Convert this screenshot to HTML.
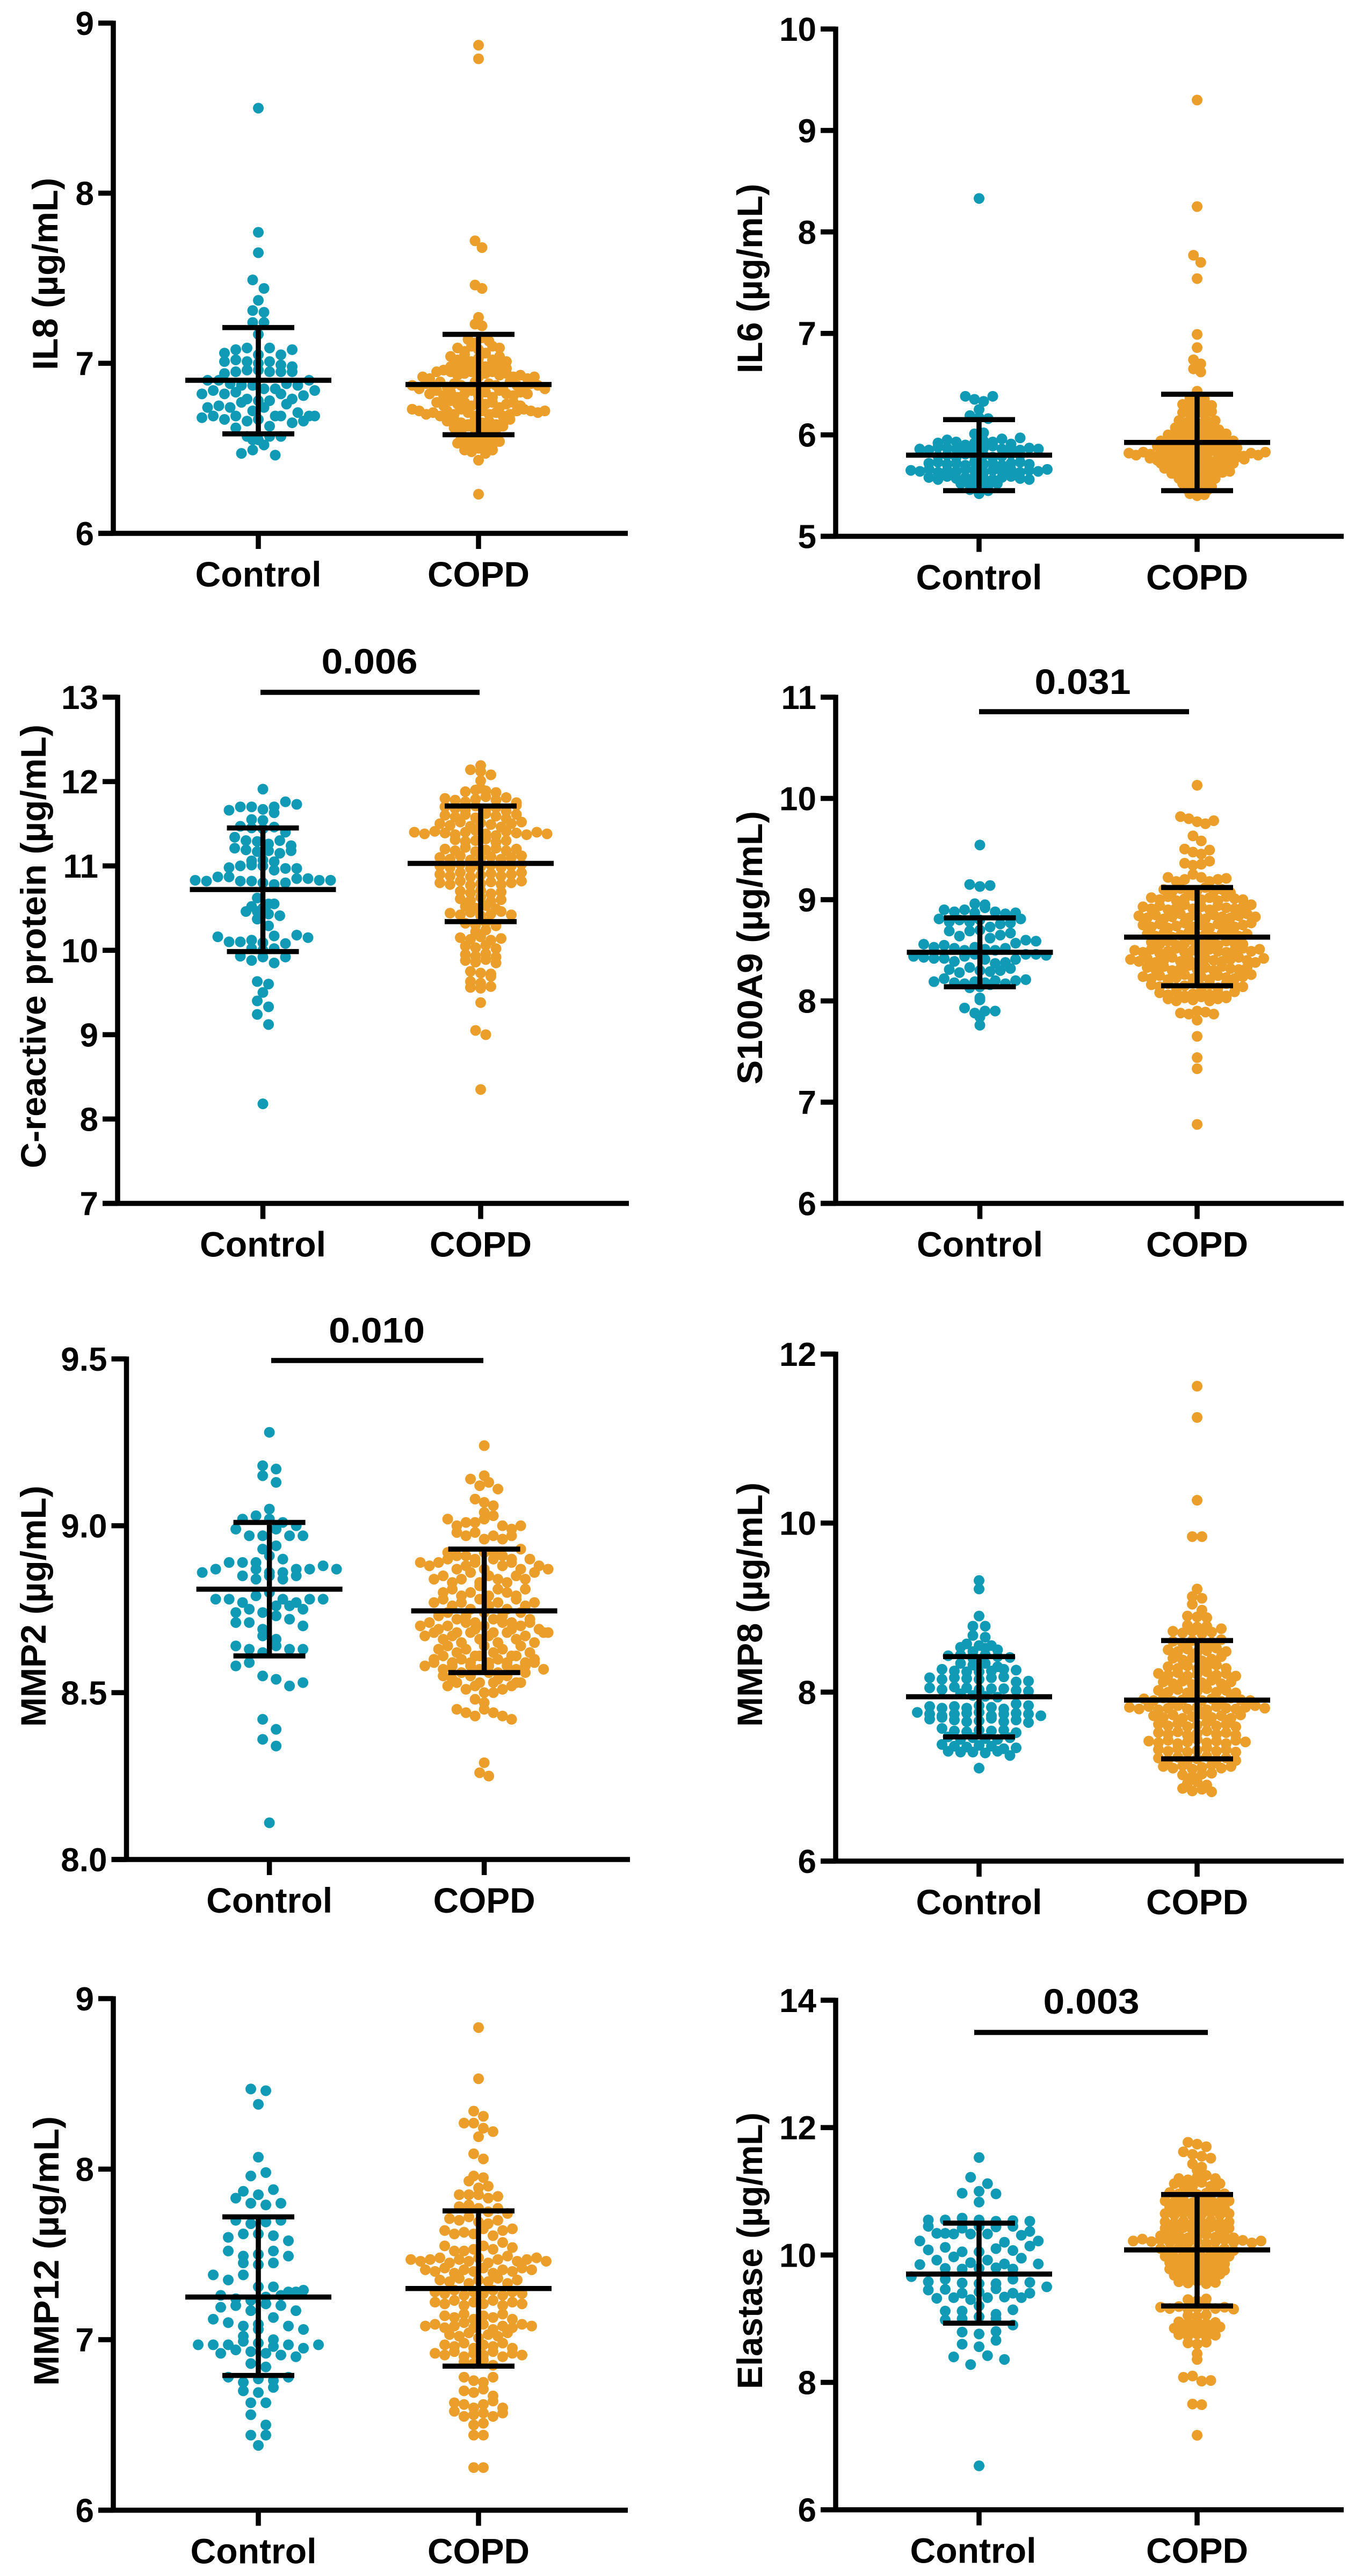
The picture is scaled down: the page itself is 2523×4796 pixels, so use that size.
<!DOCTYPE html>
<html lang="en">
<head>
<meta charset="utf-8">
<title>Biomarker levels in Control and COPD groups</title>
<style>
html,body{margin:0;padding:0;background:#fff;}
svg{display:block;}
text{font-family:"Liberation Sans",Arial,sans-serif;font-weight:700;fill:#000;}
</style>
</head>
<body>
<svg id="figure" xmlns="http://www.w3.org/2000/svg" width="2523" height="4796" viewBox="0 0 2523 4796"></svg>
<script>
const categories=["Control","COPD"];
const il8Ticks=[6,7,8,9];
const il6Ticks=[5,6,7,8,9,10];
const crpTicks=[7,8,9,10,11,12,13];
const s100Ticks=[6,7,8,9,10,11];
const mmp2Ticks=["8.0","8.5","9.0","9.5"];
const mmp8Ticks=[6,8,10,12];
const mmp12Ticks=[6,7,8,9];
const elastaseTicks=[6,8,10,12,14];

/* mean, upper, lower for Control then COPD */
const il8ControlStats=[6.90,7.21,6.585];
const il8CopdStats=[6.875,7.17,6.58];
const il6ControlStats=[5.80,6.15,5.45];
const il6CopdStats=[5.925,6.40,5.45];
const crpControlStats=[10.72,11.45,9.985];
const crpCopdStats=[11.03,11.71,10.34];
const s100ControlStats=[8.48,8.82,8.14];
const s100CopdStats=[8.63,9.12,8.15];
const mmp2ControlStats=[8.81,9.01,8.61];
const mmp2CopdStats=[8.745,8.93,8.56];
const mmp8ControlStats=[7.945,8.42,7.47];
const mmp8CopdStats=[7.905,8.61,7.21];
const mmp12ControlStats=[7.25,7.72,6.79];
const mmp12CopdStats=[7.30,7.755,6.845];
const elastaseControlStats=[9.70,10.50,8.93];
const elastaseCopdStats=[10.08,10.95,9.20];

/* measured values, grouped in the rows of each swarm */
const il8Control=[[8.50],[7.77],[7.65],[7.49,7.44],[7.37],[7.31,7.30],[7.24,7.24],[7.17],
[7.06,7.08,7.09,7.05,7.09,7.05,7.08],[7.01,7.02,7.01,7.00,7.01,6.99,6.98],[6.94,6.95,6.96,6.96,6.95,6.95,6.95],
[6.90,6.90,6.88,6.87,6.87,6.85,6.85,6.88,6.87,6.90],[6.82,6.84,6.82,6.83,6.79,6.78,6.78,6.82,6.79,6.81,6.84],
[6.74,6.75,6.74,6.77,6.72,6.74,6.69,6.76,6.71,6.69],[6.68,6.69,6.67,6.69,6.66,6.67,6.63,6.69,6.65,6.66,6.69],
[6.62,6.57,6.55,6.57,6.57],[6.55,6.52],[6.47,6.49,6.52,6.46]];
const il8Copd=[[8.87],[8.79],[7.72,7.68],[7.46,7.44],[7.27],[7.23,7.22],[7.14,7.12,7.15,7.13],
[7.09,7.07,7.10,7.08,7.06,7.10,7.09],[7.04,7.02,7.05,7.01,7.03,7.06,7.02,7.04,7.01],[6.98,6.96,6.99,6.97,7.00,6.98,6.96,6.99,6.97],
[6.92,6.91,6.95,6.96,6.95,6.93,6.94,6.95,6.92,6.94,6.95,6.93,6.94,6.92,6.93,6.91,6.92],
[6.87,6.85,6.88,6.87,6.89,6.86,6.88,6.87,6.85,6.89,6.86,6.88,6.87,6.85,6.89,6.87,6.86,6.88,6.87,6.85],
[6.82,6.84,6.81,6.83,6.80,6.82,6.84,6.81,6.83,6.80,6.84,6.82,6.81,6.83,6.82],
[6.77,6.75,6.78,6.76,6.77,6.75,6.78,6.76,6.77,6.74,6.76,6.77,6.75],
[6.73,6.72,6.70,6.71,6.69,6.72,6.70,6.73,6.71,6.69,6.72,6.70,6.71,6.69,6.70,6.72,6.73,6.72,6.71,6.72],
[6.66,6.67,6.65,6.64,6.67,6.65,6.66,6.64,6.65,6.67],[6.62,6.60,6.63,6.61,6.60,6.62,6.61,6.63],
[6.57,6.56,6.58,6.55,6.57,6.56],[6.53,6.52,6.54,6.51,6.53,6.52,6.54],[6.49,6.48,6.50,6.47,6.49],[6.43],[6.23]];

const il6Control=[[8.33],[6.38,6.35,6.33,6.38],[6.25],[6.19,6.17,6.16],[6.01,6.02],
[5.92,5.95,5.93,5.90,5.92,5.94,5.93,5.96,5.91,5.97],[5.86,5.85,5.88,5.87,5.86,5.88,5.85,5.87,5.89,5.86,5.88,5.85,5.87,5.86],
[5.79,5.80,5.78,5.81,5.79,5.80,5.78,5.79,5.81,5.80],[5.72,5.73,5.71,5.72,5.70,5.73,5.71,5.72,5.70,5.72,5.73,5.71],
[5.65,5.64,5.66,5.63,5.65,5.64,5.66,5.65,5.63,5.65,5.64,5.66,5.63,5.65,5.64,5.66],
[5.58,5.56,5.59,5.57,5.58,5.59,5.57,5.56,5.58,5.59,5.57,5.56],[5.52,5.51,5.53,5.50,5.52],[5.46,5.47,5.45],[5.42]];
const il6Copd=[[9.30],[8.25],[7.77,7.70],[7.54],[6.99],[6.86],[6.74,6.70],[6.65,6.62],[6.43],[6.36,6.37,6.35],
[6.30,6.28,6.31,6.27,6.29],[6.22,6.21,6.24,6.20,6.23],[6.14,6.12,6.15,6.11,6.13,6.14],[6.07,6.05,6.08,6.06,6.04,6.07,6.05],
[6.00,5.98,6.01,5.99,6.02,5.97,6.00,5.98,6.01],[5.94,5.92,5.95,5.93,5.96,5.91,5.94,5.92,5.95,5.93,5.94],
[5.89,5.87,5.90,5.88,5.86,5.89,5.87,5.90,5.88,5.86,5.89,5.87],
[5.82,5.80,5.83,5.81,5.79,5.84,5.82,5.80,5.83,5.81,5.79,5.82,5.84,5.80,5.83,5.81,5.79,5.82,5.80,5.83],
[5.77,5.75,5.78,5.76,5.74,5.77,5.75,5.78,5.76,5.74,5.77,5.75,5.78,5.76],
[5.72,5.70,5.73,5.71,5.69,5.72,5.70,5.73,5.71,5.69,5.72],[5.67,5.65,5.68,5.66,5.64,5.67,5.65,5.68,5.66,5.64],
[5.62,5.60,5.63,5.61,5.59,5.62,5.60,5.63],[5.57,5.55,5.58,5.56,5.54,5.57],[5.52,5.50,5.53,5.51,5.49],
[5.47,5.45,5.48,5.46],[5.42,5.40,5.41]];

const crpControl=[[11.91],[11.66,11.70,11.70,11.67,11.70,11.76,11.73],[11.55,11.54,11.63],[11.47,11.45,11.44,11.46,11.40],
[11.34,11.30,11.29,11.26,11.30,11.24],[11.21,11.19,11.17,11.18,11.15,11.18],[11.06,11.07,11.05],[10.98,11.00,11.01,11.00,10.95,10.97,10.97],
[10.83,10.82,10.87,10.87,10.82,10.82,10.80,10.78,10.80,10.85,10.85,10.83,10.83],[10.62,10.55],[10.52,10.50,10.55],[10.46,10.46,10.43,10.41],
[10.37,10.29],[10.16,10.10,10.10,10.12,10.09,10.17,10.08,10.18,10.15],[10.02,10.00,10.02],[9.93,9.88,9.92,9.85,9.92],[9.63,9.60],[9.50],[9.40,9.33],[9.24,9.12],[8.18]];
const crpCopd=[[12.19],[12.14,12.12,12.08],[12.01],[11.92],[11.88,11.90,11.89,11.87],
[11.80,11.78,11.76,11.79,11.82,11.78,11.81,11.75],
[11.70,11.68,11.66,11.71,11.67,11.69,11.65,11.72],
[11.60,11.58,11.61,11.57,11.62,11.59,11.56,11.61],
[11.50,11.48,11.52,11.47,11.51,11.49,11.46,11.50,11.52],
[11.40,11.38,11.41,11.39,11.37,11.40,11.42,11.38,11.36,11.41,11.39,11.37,11.40,11.38],
[11.31,11.29,11.30,11.32,11.28,11.30],
[11.20,11.18,11.22,11.17,11.19,11.21,11.18,11.20],
[11.10,11.08,11.12,11.07,11.09,11.11,11.08,11.10,11.12],
[11.00,10.98,11.02,10.97,10.99,11.01,10.98,11.00,11.02],
[10.90,10.88,10.92,10.87,10.89,10.91,10.88,10.90,10.92],
[10.80,10.78,10.82,10.77,10.79,10.81,10.78,10.80,10.82],
[10.70,10.68,10.71,10.67,10.69],[10.61,10.59,10.63,10.58,10.60],[10.52,10.50,10.53,10.49],
[10.44,10.42,10.45,10.41,10.43,10.46,10.42],[10.32,10.30,10.33,10.29],[10.22,10.24],
[10.15,10.13,10.16,10.12,10.14],[10.05,10.03,10.06,10.02],[9.95,9.93,9.96,9.92],[9.88,9.86,9.89,9.85],[9.75,9.73,9.72],
[9.63,9.61,9.69],[9.56,9.55,9.57],[9.38],[9.05,9.00],[8.35]];

const s100Control=[[9.54],[9.15,9.13,9.14],[8.96,8.95],[8.90,8.88,8.90,8.87,8.92,8.88,8.86,8.87],[8.81,8.78,8.80,8.78,8.80,8.73,8.76,8.77,8.81],
[8.69,8.64,8.69,8.70,8.62,8.65,8.67],[8.56,8.53,8.55,8.52,8.50,8.53,8.51,8.50,8.52,8.57,8.60,8.59],
[8.44,8.43,8.42,8.42,8.39,8.44,8.46,8.41,8.37,8.38,8.41,8.46,8.46,8.45],[8.31,8.28,8.33,8.30,8.29,8.30,8.32],
[8.19,8.22,8.18,8.17,8.19,8.18,8.20,8.17,8.20,8.21],[8.13,8.14,8.16],[8.03],[8.01],[7.93,7.88,7.90,7.90],[7.84],[7.76]];
const s100Copd=[[10.13],[9.82,9.80,9.77,9.75,9.78],[9.63,9.58],[9.50,9.47,9.45,9.49],[9.36,9.34,9.35,9.38],[9.22,9.18,9.20,9.25,9.22,9.18,9.20,9.21],
[9.10,9.08,9.11,9.07,9.09,9.12,9.08,9.10,9.07],[9.02,9.00,9.03,8.99,9.01,9.04,9.00,9.02,8.99,9.03,9.01,9.00],
[8.93,8.91,8.94,8.90,8.92,8.95,8.91,8.93,8.90,8.94,8.92,8.91,8.93,8.95],[8.84,8.82,8.85,8.81,8.83,8.86,8.82,8.84,8.81,8.85,8.83,8.82,8.84,8.86,8.83],
[8.75,8.73,8.76,8.72,8.74,8.77,8.73,8.75,8.72,8.76,8.74,8.73,8.75,8.77],[8.66,8.64,8.67,8.63,8.65,8.68,8.64,8.66,8.63,8.67,8.65,8.64,8.66],
[8.58,8.56,8.59,8.55,8.57,8.60,8.56,8.58,8.55,8.59,8.57,8.56],[8.50,8.48,8.51,8.47,8.49,8.52,8.48,8.50,8.47,8.51,8.49,8.48,8.50,8.52,8.49,8.51],
[8.41,8.39,8.42,8.38,8.40,8.43,8.39,8.41,8.38,8.42,8.40,8.39,8.41,8.43,8.40,8.38,8.42],[8.33,8.31,8.34,8.30,8.32,8.35,8.31,8.33,8.30,8.34,8.32,8.31,8.33],
[8.24,8.22,8.25,8.21,8.23,8.26,8.22,8.24,8.21,8.25,8.23,8.22,8.24,8.26],[8.16,8.14,8.17,8.13,8.15,8.18,8.14,8.16,8.13,8.17,8.15,8.14],
[8.08,8.06,8.09,8.05,8.07,8.10,8.06,8.08,8.05,8.09],[8.02,8.00,8.03,8.01,8.04,8.00,8.02,8.03],[7.88,7.87,7.90,7.89,7.87],[7.81],[7.65],[7.44],[7.33],[6.78]];

const mmp2Control=[[9.28],[9.18,9.17],[9.15,9.13],[9.05],[9.02,9.03,9.02,9.01,9.00],[8.99,8.97,8.97,8.99,8.97,8.97],[8.93,8.94],[8.89,8.91,8.90],
[8.86,8.87,8.89,8.89,8.87,8.86,8.86,8.87,8.87,8.88,8.87],[8.85,8.84,8.85,8.84,8.85],[8.78,8.78,8.77,8.79,8.80,8.78,8.77,8.78,8.78],
[8.74,8.75,8.74,8.76,8.76,8.75],[8.71,8.71,8.69,8.73,8.72,8.70],[8.67,8.66],[8.64,8.63,8.62,8.64,8.63,8.63],[8.58,8.59,8.55,8.54,8.52,8.53],[8.42,8.39],[8.36,8.34],[8.11]];
const mmp2Copd=[[9.24],[9.15],[9.14,9.12,9.13,9.11],[9.08,9.07,9.06],[9.04],[9.02,9.00,9.01,9.01,9.02,9.03,9.00,8.99,9.00],[8.98,8.97,8.98,8.96,8.97,8.96,8.97],
[8.92,8.91,8.91,8.90,8.92,8.92,8.91,8.90,8.93],[8.89,8.88,8.89,8.90,8.87,8.88,8.89,8.87,8.90,8.88,8.89,8.87,8.90,8.88,8.87],
[8.84,8.85,8.83,8.84,8.86,8.83,8.85,8.84,8.83,8.85,8.84,8.86],[8.80,8.81,8.79,8.80,8.82,8.79,8.81,8.80,8.79,8.81],
[8.77,8.78,8.76,8.77,8.75,8.78,8.76,8.77,8.75,8.78,8.76,8.77],[8.73,8.74,8.72,8.73,8.71,8.74,8.72,8.73,8.71,8.74,8.72],
[8.70,8.71,8.69,8.70,8.68,8.71,8.69,8.70,8.68,8.71,8.69,8.70,8.71,8.69,8.68],[8.67,8.68,8.66,8.67,8.65,8.68,8.66,8.67,8.65,8.68,8.66,8.67,8.65,8.68],
[8.63,8.64,8.62,8.63,8.61,8.64,8.62,8.63,8.61,8.64,8.62],[8.60,8.61,8.59,8.60,8.58,8.61,8.59,8.60,8.58,8.61,8.59,8.60],
[8.58,8.59,8.57,8.58,8.56,8.59,8.57,8.58,8.56,8.59,8.57,8.58,8.59,8.57],[8.55,8.54,8.56,8.55,8.53,8.56,8.54,8.55,8.53,8.56],
[8.52,8.53,8.51,8.52,8.50,8.53,8.51,8.52,8.53],[8.48,8.47,8.50],[8.45,8.44,8.43,8.45,8.44,8.43,8.42],[8.29],[8.26,8.25]];

const mmp8Control=[[9.32],[9.22],[8.90],[8.78,8.78],[8.67,8.65],[8.57,8.55,8.55],[8.53,8.48,8.52,8.50],[8.43,8.44,8.40,8.44,8.42,8.41],[8.34,8.32,8.34,8.30],
[8.27,8.25,8.24,8.24,8.25,8.27,8.26],[8.17,8.15,8.17,8.16,8.15,8.17,8.18,8.12,8.13],[8.05,8.03,8.06,8.05,8.03,8.04,8.04,8.02,8.01],[7.98,7.96,7.95,7.94],
[7.83,7.81,7.83,7.81,7.84,7.82,7.80,7.86,7.84],[7.76,7.74,7.72,7.74,7.75,7.76,7.72,7.74,7.75,7.74,7.72],[7.68,7.70,7.67,7.65,7.66,7.69,7.65,7.67,7.64],
[7.57,7.54,7.53,7.55,7.54,7.55,7.52],[7.47,7.44,7.46,7.45,7.44,7.46],[7.38,7.36,7.35,7.37,7.36,7.33,7.34],[7.30,7.29,7.29,7.28,7.30,7.25],[7.10]];
const mmp8Copd=[[11.62],[11.25],[10.27],[9.84,9.84],[9.22],[9.13,9.11],[9.04,8.97],[8.90,8.89,8.88],[8.79,8.77,8.78],[8.72,8.70,8.72,8.69,8.71,8.75],
[8.60,8.58,8.61,8.57,8.59,8.62],[8.50,8.48,8.51,8.47,8.49,8.52,8.48],[8.40,8.38,8.41,8.37,8.39,8.42],[8.30,8.28,8.31,8.27,8.29,8.32,8.28],
[8.22,8.20,8.23,8.19,8.21,8.24,8.20,8.22,8.19],[8.12,8.10,8.13,8.09,8.11,8.14,8.10,8.12],[8.02,8.00,8.03,7.99,8.01,8.04,8.00,8.02,7.99],
[7.92,7.90,7.93,7.89,7.91,7.94,7.90,7.92,7.89,7.93,7.91,7.90],[7.82,7.80,7.83,7.79,7.81,7.84,7.80,7.82,7.79,7.83,7.81,7.80,7.82,7.84,7.81],
[7.72,7.70,7.73,7.69,7.71,7.74,7.70,7.72,7.69,7.73],[7.62,7.60,7.63,7.59,7.61,7.64,7.60,7.62,7.59],[7.52,7.50,7.53,7.49,7.51,7.54,7.50,7.52,7.49],
[7.42,7.40,7.43,7.39,7.41,7.44,7.40,7.42,7.39,7.43,7.41],[7.32,7.30,7.33,7.29,7.31,7.34,7.30,7.32,7.29],[7.22,7.20,7.23,7.19,7.21,7.24,7.20,7.22,7.19],
[7.12,7.10,7.13,7.09,7.11,7.14,7.10,7.12],[7.02,7.00,7.03,7.04],[6.92,6.94,6.90],[6.86,6.83,6.85,6.82]];

const mmp12Control=[[8.47,8.46],[8.38],[8.07],[7.96,7.98],[7.87,7.85,7.88],[7.83,7.80,7.79,7.80],[7.70,7.68,7.69,7.70],[7.60,7.62,7.62,7.61,7.58],[7.52,7.49,7.50,7.52,7.49],
[7.45,7.44,7.45],[7.38,7.35,7.38,7.31,7.31,7.28,7.29],[7.26,7.24,7.23,7.25,7.26,7.28],[7.19,7.20,7.17,7.21,7.20,7.17],[7.12,7.10,7.08,7.09,7.13,7.08,7.06],[7.02,7.06,7.00],
[6.97,6.97,6.97,6.99,6.98,6.96,6.97,6.95,6.97],[6.92,6.94,6.93,6.92,6.91,6.90],[6.86,6.84],[6.78,6.75,6.77,6.76,6.78],[6.70,6.69,6.72],[6.63,6.63],[6.56,6.50],[6.44,6.44],[6.38]];
const mmp12Copd=[[8.83],[8.53],[8.34,8.31],[8.27,8.27,8.24,8.22],[8.19],[8.09,8.06],[7.96,7.95],[7.93,7.89,7.90],[7.85,7.85,7.85,7.83,7.84],[7.78,7.79,7.77,7.75,7.77],
[7.71,7.70,7.72,7.69,7.68,7.70,7.74],[7.64,7.62,7.63,7.62,7.65,7.61,7.64,7.65],[7.55,7.52,7.52,7.53,7.55,7.53,7.57,7.54],
[7.47,7.46,7.47,7.48,7.45,7.47,7.46,7.48,7.45,7.47,7.49,7.46,7.47,7.48,7.46],[7.41,7.40,7.42,7.39,7.41,7.40,7.42,7.39,7.41,7.40,7.42,7.41],
[7.35,7.34,7.36,7.33,7.35,7.34,7.36,7.33,7.35],[7.28,7.27,7.29,7.26,7.28,7.27,7.29,7.26,7.28,7.27],
[7.22,7.21,7.23,7.20,7.22,7.21,7.23,7.20,7.22,7.21],[7.14,7.13,7.15,7.12,7.14,7.13,7.15,7.12],
[7.08,7.09,7.07,7.08,7.10,7.07,7.09,7.06,7.08,7.07,7.09,7.08],[7.03,7.02,7.04,7.01,7.03,7.02,7.04],[6.97,6.96,6.98,6.95,6.97,6.96,6.98,6.95],
[6.92,6.91,6.93,6.90,6.92,6.91,6.93,6.90,6.92,6.91],[6.87,6.86,6.88,6.85],[6.78,6.76,6.75,6.78],[6.70,6.69,6.71,6.67],[6.63,6.62,6.60,6.62,6.64,6.60],[6.58,6.55,6.56,6.57,6.55,6.57],[6.50,6.51],[6.44,6.44],[6.25,6.25]];

const elastaseControl=[[11.53],[11.22,11.12],[10.97,11.00,10.96],[10.83],[10.55,10.55,10.58,10.55,10.53,10.54,10.53],[10.45,10.34,10.42,10.45,10.44,10.45,10.37],
[10.22,10.34,10.33,10.33,10.33,10.20,10.31,10.22],[10.08,10.12,10.05,10.05,10.10,10.07,10.14],[9.85,9.92,9.97,9.88,9.92,9.86,9.95,9.86],[9.79,9.78,9.79,9.80,9.78],
[9.66,9.58,9.62,9.56,9.55,9.55,9.62,9.57,9.50],[9.45,9.46,9.40,9.42,9.47,9.40,9.40],[9.32,9.33,9.30,9.33,9.34,9.33],[9.12,9.12,9.20,9.07,9.14],[8.98,9.00,9.03,9.00,8.90],[8.79,8.76,8.80],[8.60,8.56,8.66],[8.40,8.28,8.42,8.36],[6.69]];
const elastaseCopd=[[11.77,11.74,11.70],[11.62,11.58,11.55,11.52],[11.43,11.38],[11.33],[11.20,11.18,11.22,11.25,11.20],[11.12,11.10,11.08,11.14,11.08,11.12],
[10.98,10.96,10.99,10.95,10.97,11.00,10.96],[10.85,10.83,10.86,10.82,10.84,10.87,10.83,10.85],
[10.75,10.73,10.76,10.72,10.74,10.77,10.73],[10.65,10.63,10.66,10.62,10.64,10.67,10.63,10.65],
[10.52,10.50,10.53,10.49,10.51,10.54,10.50,10.52],[10.42,10.40,10.43,10.39,10.41,10.44,10.40,10.42],
[10.30,10.28,10.31,10.27,10.29,10.32,10.28,10.30,10.27],
[10.22,10.25,10.21,10.24,10.20,10.23,10.19,10.22,10.18,10.21,10.24,10.20,10.23,10.19,10.22],
[10.10,10.08,10.11,10.07,10.09,10.12,10.08,10.10,10.07],[9.98,9.96,9.99,9.95,9.97,10.00,9.96,9.98],
[9.88,9.86,9.89,9.85,9.87,9.90,9.86],[9.78,9.76,9.79,9.75,9.77,9.80,9.76],[9.68,9.66,9.69,9.65,9.67,9.70],[9.58,9.56,9.59,9.55,9.57],
[9.30,9.28,9.31],[9.18,9.16,9.19,9.15,9.17,9.20,9.16,9.18,9.15],[9.05,9.03,9.06],[8.95,8.93,8.96,8.92,8.94],[8.85,8.83,8.86,8.82,8.84,8.87],
[8.75,8.73,8.76,8.72,8.74],[8.62,8.60,8.63],[8.45],[8.36],[8.08,8.10,8.02,8.03],[7.66,7.65],[7.17]];

const panels=[
{key:"il8",title:"IL8 (µg/mL)",titleX:107,titleBottom:689,titleTop:331,axisX:211,yTop:43,yBottom:993,vMin:6,vMax:9,ticks:il8Ticks,endX:1169,ctrlX:481,copdX:891,ctrlLabelX:481,copdLabelX:891,ctrl:il8Control,copd:il8Copd,ctrlStats:il8ControlStats,copdStats:il8CopdStats,ctrlSp:21,copdSp:13},
{key:"il6",title:"IL6 (µg/mL)",titleX:1419,titleBottom:695,titleTop:342,axisX:1556,yTop:54,yBottom:998.5,vMin:5,vMax:10,ticks:il6Ticks,endX:2502,ctrlX:1823,copdX:2229,ctrlLabelX:1823,copdLabelX:2229,ctrl:il6Control,copd:il6Copd,ctrlStats:il6ControlStats,copdStats:il6CopdStats,ctrlSp:17,copdSp:13.5},
{key:"crp",title:"C-reactive protein (µg/mL)",titleX:85,titleBottom:2175,titleTop:1349,axisX:219,yTop:1298,yBottom:2240.5,vMin:7,vMax:13,ticks:crpTicks,endX:1171,ctrlX:489.5,copdX:895,ctrlLabelX:489.5,copdLabelX:895,ctrl:crpControl,copd:crpCopd,ctrlStats:crpControlStats,copdStats:crpCopdStats,ctrlSp:21,copdSp:19,sig:{text:"0.006",x1:485,x2:893,y:1289,tx:688,ty:1254}},
{key:"s100a9",title:"S100A9 (µg/mL)",titleX:1419,titleBottom:2019,titleTop:1510,axisX:1556,yTop:1298,yBottom:2240.5,vMin:6,vMax:11,ticks:s100Ticks,endX:2502,ctrlX:1824.5,copdX:2229,ctrlLabelX:1824.5,copdLabelX:2229,ctrl:s100Control,copd:s100Copd,ctrlStats:s100ControlStats,copdStats:s100CopdStats,ctrlSp:19,copdSp:15.5,sig:{text:"0.031",x1:1823,x2:2214,y:1325,tx:2016,ty:1292}},
{key:"mmp2",title:"MMP2 (µg/mL)",titleX:85,titleBottom:3215,titleTop:2766,axisX:235.5,yTop:2530,yBottom:3462,vMin:8,vMax:9.5,ticks:mmp2Ticks,endX:1173,ctrlX:501.6,copdX:901.6,ctrlLabelX:501.6,copdLabelX:901.6,ctrl:mmp2Control,copd:mmp2Copd,ctrlStats:mmp2ControlStats,copdStats:mmp2CopdStats,ctrlSp:25,copdSp:17,sig:{text:"0.010",x1:505,x2:900,y:2533,tx:701.6,ty:2499.5}},
{key:"mmp8",title:"MMP8 (µg/mL)",titleX:1419,titleBottom:3215,titleTop:2760,axisX:1556,yTop:2521,yBottom:3465,vMin:6,vMax:12,ticks:mmp8Ticks,endX:2502,ctrlX:1823,copdX:2229,ctrlLabelX:1823,copdLabelX:2229,ctrl:mmp8Control,copd:mmp8Copd,ctrlStats:mmp8ControlStats,copdStats:mmp8CopdStats,ctrlSp:23,copdSp:18},
{key:"mmp12",title:"MMP12 (µg/mL)",titleX:109,titleBottom:4442,titleTop:3940,axisX:211,yTop:3721,yBottom:4673.5,vMin:6,vMax:9,ticks:mmp12Ticks,endX:1169,ctrlX:481,copdX:891,ctrlLabelX:472,copdLabelX:891,ctrl:mmp12Control,copd:mmp12Copd,ctrlStats:mmp12ControlStats,copdStats:mmp12CopdStats,ctrlSp:28,copdSp:18},
{key:"elastase",title:"Elastase (µg/mL)",titleX:1419,titleBottom:4448,titleTop:3933,axisX:1556,yTop:3724,yBottom:4672.7,vMin:6,vMax:14,ticks:elastaseTicks,endX:2502,ctrlX:1823,copdX:2229,ctrlLabelX:1812,copdLabelX:2229,ctrl:elastaseControl,copd:elastaseCopd,ctrlStats:elastaseControlStats,copdStats:elastaseCopdStats,ctrlSp:31.5,copdSp:17,sig:{text:"0.003",x1:1814,x2:2249,y:3784,tx:2032,ty:3749}}
];

const NS="http://www.w3.org/2000/svg";
const svg=document.getElementById("figure");
const HALF_WIDTH=127,DOT_R=10,LW=9.5,MEAN_HALF=136,CAP_HALF=67;
const CONTROL_COLOR="#119ab5",COPD_COLOR="#eb9e2a";

function make(tag,attrs,parent,text){
  const el=document.createElementNS(NS,tag);
  for(const k in attrs){el.setAttribute(k,attrs[k]);}
  if(text!==undefined){el.textContent=text;}
  parent.appendChild(el);
  return el;
}
function yScale(p,v){return p.yBottom-(Number(v)-p.vMin)/(p.vMax-p.vMin)*(p.yBottom-p.yTop);}
function line(parent,x1,y1,x2,y2,w,name){
  const el=make("line",{x1:x1,y1:y1,x2:x2,y2:y2,stroke:"#000","stroke-width":w},parent);
  
  
  return el;
}
function label(parent,x,y,anchor,size,str,name,len){
  const el=make("text",{x:x,y:y,"text-anchor":anchor,"font-size":size},parent,str);
  if(len){el.setAttribute("textLength",len);el.setAttribute("lengthAdjust","spacingAndGlyphs");}
  
  
  return el;
}
function drawSwarm(parent,p,rows,cx,sp,color,groupName){
  const g=make("g",{fill:color},parent);
  
  
  rows.forEach(function(row){
    const step=row.length>1?Math.min(sp,2*HALF_WIDTH/(row.length-1)):sp;
    row.forEach(function(v,i){
      const dot=make("circle",{cx:cx+(i-(row.length-1)/2)*step,cy:yScale(p,v),r:DOT_R},g);
      
      
    });
  });
}
function drawStats(parent,p,stats,cx,prefix){
  const mean=yScale(p,stats[0]),up=yScale(p,stats[1]),lo=yScale(p,stats[2]);
  line(parent,cx,up,cx,lo,LW,prefix+'-error-bar');
  line(parent,cx-MEAN_HALF,mean,cx+MEAN_HALF,mean,LW,prefix+'-mean-line');
  line(parent,cx-CAP_HALF,up,cx+CAP_HALF,up,LW,prefix+'-upper-cap');
  line(parent,cx-CAP_HALF,lo,cx+CAP_HALF,lo,LW,prefix+'-lower-cap');
}
panels.forEach(function(p){
  const g=make("g",{},svg);
  
  
  drawSwarm(g,p,p.ctrl,p.ctrlX,p.ctrlSp,CONTROL_COLOR,p.key+'-control-points');
  drawSwarm(g,p,p.copd,p.copdX,p.copdSp,COPD_COLOR,p.key+'-copd-points');
  drawStats(g,p,p.ctrlStats,p.ctrlX,p.key+'-control');
  drawStats(g,p,p.copdStats,p.copdX,p.key+'-copd');
  line(g,p.axisX,p.yTop-4.5,p.axisX,p.yBottom+4.5,LW,p.key+'-y-axis');
  line(g,p.axisX-28,p.yBottom,p.endX,p.yBottom,LW,p.key+'-x-axis');
  p.ticks.forEach(function(t){
    const y=yScale(p,t);
    line(g,p.axisX-28,y,p.axisX,y,LW,p.key+'-y-tick');
    label(g,p.axisX-36,y+22,"end",62,String(t),p.key+'-y-tick-label');
  });
  [p.ctrlX,p.copdX].forEach(function(x){
    line(g,x,p.yBottom,x,p.yBottom+29,LW,p.key+'-x-tick');
  });
  label(g,p.ctrlLabelX,p.yBottom+99,"middle",66,categories[0],p.key+'-control-label',235);
  label(g,p.copdLabelX,p.yBottom+99,"middle",66,categories[1],p.key+'-copd-label',190);
  const title=label(g,0,0,"start",66,p.title,p.key+'-y-axis-title',p.titleBottom-p.titleTop);
  title.setAttribute("transform","translate("+p.titleX+","+p.titleBottom+") rotate(-90)");
  if(p.sig){
    line(g,p.sig.x1,p.sig.y,p.sig.x2,p.sig.y,LW,p.key+'-significance-bar');
    label(g,p.sig.tx,p.sig.ty,"middle",66,p.sig.text,p.key+'-p-value',179);
  }
});
</script>
</body>
</html>
